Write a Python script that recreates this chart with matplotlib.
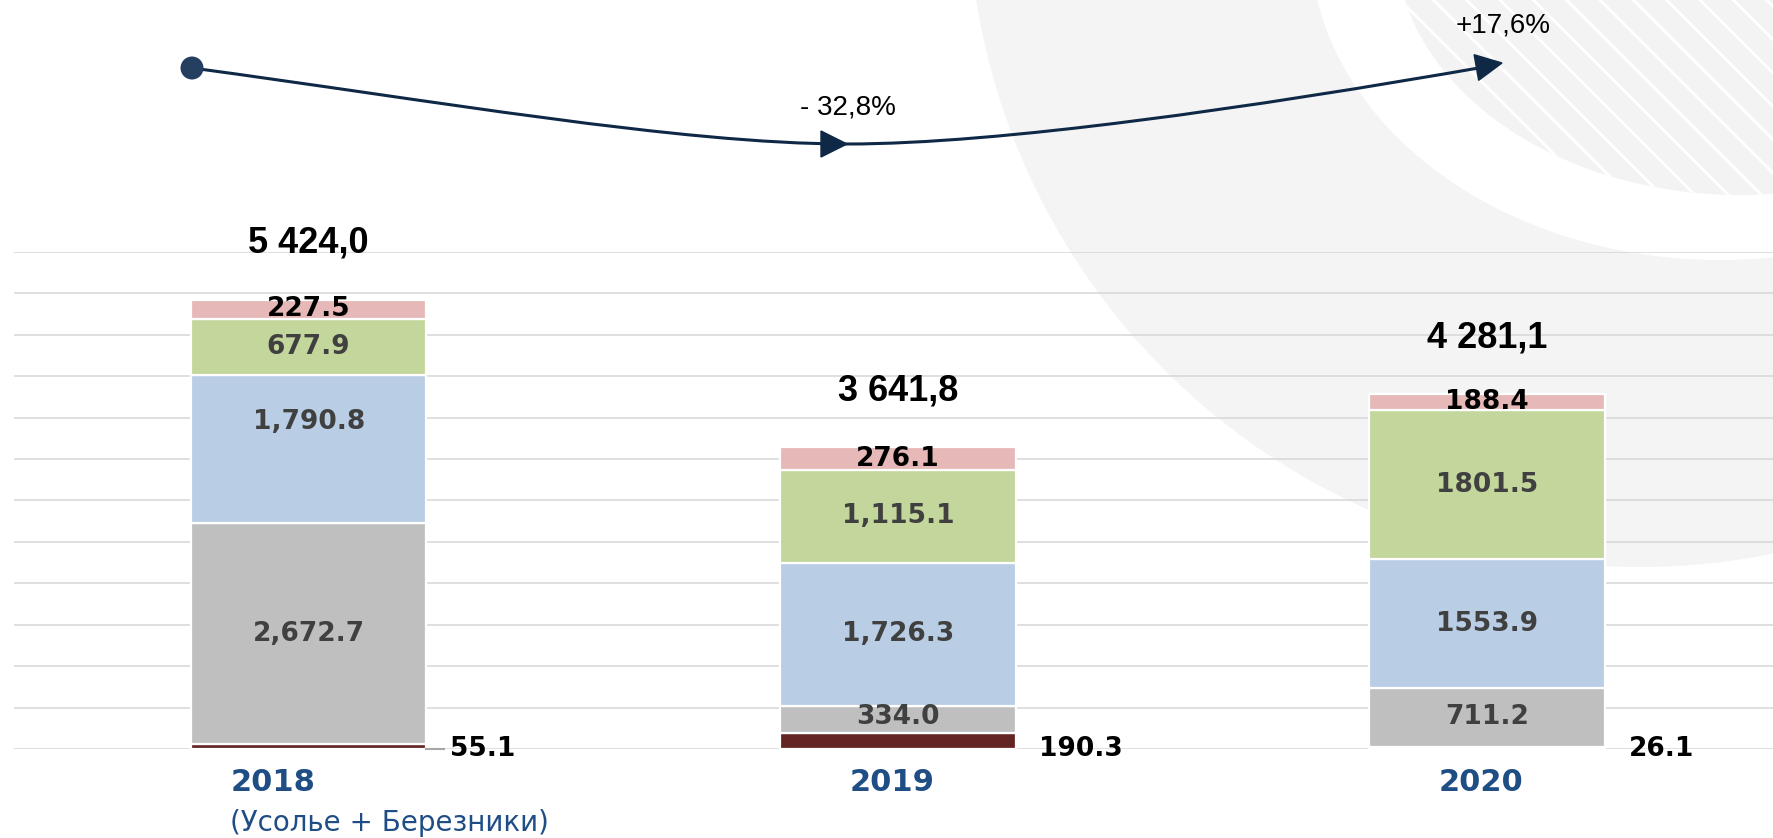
import numpy as np
import matplotlib
matplotlib.use("Agg")
import matplotlib.pyplot as plt
from matplotlib.patches import Ellipse, Polygon, PathPatch
from matplotlib.path import Path

# data
years = ["2018", "2019", "2020"]
subtitle_2018 = "(Усолье + Березники)"
dark_red = [55.1, 190.3, 26.1]
grey = [2672.7, 334.0, 711.2]
blue = [1790.8, 1726.3, 1553.9]
green = [677.9, 1115.1, 1801.5]
pink = [227.5, 276.1, 188.4]
totals = ["5 424,0", "3 641,8", "4 281,1"]
changes = ["- 32,8%", "+17,6%"]
label_fmt = ["{:,.1f}", "{:,.1f}", "{:.1f}"]

W, H = 1773, 838
plt.rcParams["hatch.linewidth"] = 2.0

fig = plt.figure(figsize=(W / 100, H / 100), dpi=100)


def fp(x, y):
    """pixel position (from top-left) -> figure fraction"""
    return (x / W, 1 - y / H)


# faint background shapes (decoration)
bg = Ellipse(fp(1640, -105), 2 * 672 / W, 2 * 672 / H, transform=fig.transFigure,
             facecolor="#F4F4F4", edgecolor="none", zorder=-3)
ring = Ellipse(fp(1720, -60), 820 / W, 640 / H, transform=fig.transFigure,
               facecolor="white", edgecolor="none", zorder=-2)
stripes = Ellipse(fp(1740, -60), 690 / W, 510 / H, transform=fig.transFigure,
                  facecolor="#F3F3F3", edgecolor="white", linewidth=0,
                  hatch="\\", zorder=-1)
for p in (bg, ring, stripes):
    fig.patches.append(p)

ax = fig.add_axes([14 / W, (H - 749) / H, (W - 14) / W, (749 - 252) / H])
ax.patch.set_alpha(0)
ax.set_xlim(-0.5, 2.485)
ax.set_ylim(0, 6000)
ax.set_yticks(np.arange(0, 6001, 500))
ax.yaxis.grid(True, color="#D9D9D9", linewidth=1.2)
ax.set_axisbelow(True)
ax.tick_params(length=0, labelleft=False, labelbottom=False)
ax.set_xticks([])
for s in ax.spines.values():
    s.set_visible(False)

x = np.arange(len(years))
width = 0.4
series = [
    (dark_red, "#632523"),
    (grey, "#BFBFBF"),
    (blue, "#B9CDE5"),
    (green, "#C3D69B"),
    (pink, "#E6B9B8"),
]
# manual label position tweaks (fraction of segment height)
label_pos = {(0, 2): 0.68, (1, 1): 0.6}

bottom = np.zeros(len(years))
for si, (vals, color) in enumerate(series):
    vals = np.array(vals)
    ax.bar(x, vals, width=width, bottom=bottom, color=color,
           edgecolor="white", linewidth=1.6, zorder=2)
    for i in range(len(years)):
        txt = label_fmt[i].format(vals[i])
        if si == 0:
            ax.text(x[i] + width / 2 + 0.04, 0, txt, ha="left", va="center",
                    fontsize=19, fontweight="bold", color="black",
                    clip_on=False, zorder=4)
            continue
        frac = label_pos.get((i, si), 0.5)
        col = "black" if si == 4 else "#404040"
        ax.text(x[i], bottom[i] + vals[i] * frac, txt, ha="center", va="center",
                fontsize=19, fontweight="bold", color=col, zorder=4)
    bottom = bottom + vals

# leader line for the small 2018 value
ax.plot([x[0] + width / 2, x[0] + width / 2 + 0.03], [0, 0], color="#A6A6A6",
        lw=1.5, clip_on=False, zorder=3)

# totals
for i, t in enumerate(totals):
    ax.text(x[i], bottom[i] + 680, t, ha="center", va="center", fontsize=26,
            fontweight="bold", family="Liberation Sans", color="black",
            clip_on=False)

# year labels
year_col = "#1F4E85"
ax.text(-0.133, -410, years[0], ha="left", va="center", fontsize=22,
        fontweight="bold", color=year_col, clip_on=False)
ax.text(-0.133, -890, subtitle_2018, ha="left", va="center", fontsize=20,
        color=year_col, clip_on=False)
for i in (1, 2):
    ax.text(x[i] - 0.01, -410, years[i], ha="center", va="center", fontsize=22,
            fontweight="bold", color=year_col, clip_on=False)

# change arrow (decoration in figure pixels)
navy = "#0F2846"
curve1 = [(192, 68), (430, 100), (680, 144), (847, 144)]
curve2 = [(847, 144), (1000, 144), (1250, 108), (1490, 66)]
for pts in (curve1, curve2):
    path = Path([fp(*p) for p in pts],
                [Path.MOVETO, Path.CURVE4, Path.CURVE4, Path.CURVE4])
    fig.add_artist(PathPatch(path, transform=fig.transFigure, facecolor="none",
                             edgecolor=navy, linewidth=2.2, zorder=5))


def arrow_head(tip, direction, length=26, half=13):
    d = np.array(direction, float)
    d /= np.linalg.norm(d)
    n = np.array([-d[1], d[0]])
    tip = np.array(tip, float)
    base = tip - d * length
    pts = [tip, base + n * half, base - n * half]
    fig.add_artist(Polygon([fp(*p) for p in pts], closed=True,
                           transform=fig.transFigure, facecolor=navy,
                           edgecolor=navy, zorder=6))


arrow_head((847, 144), (1, 0))
arrow_head((1502, 63), (226, -40))
fig.add_artist(Ellipse(fp(192, 68), 23 / W, 23 / H, transform=fig.transFigure,
                       facecolor="#243F60", edgecolor="none", zorder=7))

fig.text(*fp(848, 107), changes[0], ha="center", va="center", fontsize=20,
         family="Liberation Sans", color="black")
fig.text(*fp(1503, 26), changes[1], ha="center", va="center", fontsize=20,
         family="Liberation Sans", color="black")

fig.savefig("out.png", dpi=100)
